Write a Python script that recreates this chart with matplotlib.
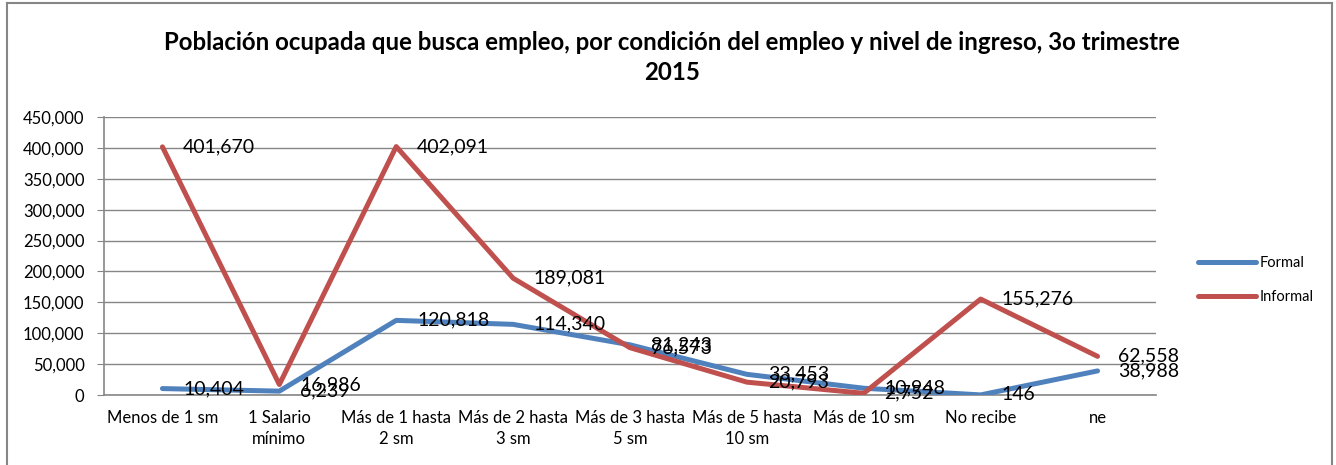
import matplotlib.pyplot as plt
from matplotlib.lines import Line2D
from matplotlib.ticker import FuncFormatter

# categories and series values
categorias = ["Menos de 1 sm", "1 Salario\nmínimo", "Más de 1 hasta\n2 sm", "Más de 2 hasta\n3 sm",
              "Más de 3 hasta\n5 sm", "Más de 5 hasta\n10 sm", "Más de 10 sm", "No recibe", "ne"]
formal = [10404, 6239, 120818, 114340, 81243, 33453, 10948, 146, 38988]
informal = [401670, 16986, 402091, 189081, 76573, 20793, 2752, 155276, 62558]

plt.rcParams['font.family'] = ['Lato', 'DejaVu Sans']

fig = plt.figure(figsize=(13.36, 4.65), dpi=100)
ax = fig.add_axes([104/1336, 1-395/465, 1052/1336, 278/465])

x = list(range(len(categorias)))
azul = "#4F81BD"
rojo = "#C0504D"
ax.plot(x, formal, color=azul, lw=3.6, label="Formal", solid_capstyle="round", zorder=3)
ax.plot(x, informal, color=rojo, lw=3.6, label="Informal", solid_capstyle="round", zorder=3)

# data labels to the right of each point
for xi, v in zip(x, formal):
    ax.annotate(f"{v:,}", (xi, v), xytext=(15, 0), textcoords="offset points",
                ha="left", va="center", fontsize=14, zorder=4, annotation_clip=False)
for xi, v in zip(x, informal):
    ax.annotate(f"{v:,}", (xi, v), xytext=(15, 0), textcoords="offset points",
                ha="left", va="center", fontsize=14, zorder=4, annotation_clip=False)

ax.set_xlim(-0.5, len(categorias) - 0.5)
ax.set_ylim(0, 450000)
ax.set_yticks(range(0, 450001, 50000))
ax.yaxis.set_major_formatter(FuncFormatter(lambda v, p: f"{int(v):,}"))
ax.set_xticks(x)
ax.set_xticklabels(categorias, fontsize=12, linespacing=1.4, va="top")
ax.tick_params(axis="x", length=0, pad=11)
ax.tick_params(axis="y", length=5, color="#868686", labelsize=12, pad=9)
ax.grid(axis="y", color="#868686", lw=1)
ax.set_axisbelow(True)
for s in ["top", "right"]:
    ax.spines[s].set_visible(False)
ax.spines["left"].set_color("#868686")
ax.spines["bottom"].set_color("#868686")
ax.spines["left"].set_linewidth(1.2)
ax.spines["bottom"].set_linewidth(1.2)

fig.text(672/1336, 1-42/465, "Población ocupada que busca empleo, por condición del empleo y nivel de ingreso, 3o trimestre",
         ha="center", va="center", fontsize=17.3, fontweight="bold")
fig.text(672/1336, 1-72/465, "2015", ha="center", va="center", fontsize=17.3, fontweight="bold")

fig.legend(handles=[Line2D([0], [0], color=azul, lw=3.6, solid_capstyle="round"),
                    Line2D([0], [0], color=rojo, lw=3.6, solid_capstyle="round")],
           labels=["Formal", "Informal"], loc="center left", bbox_to_anchor=(1185/1336, 1-280/465),
           frameon=False, fontsize=10.5, handlelength=4, labelspacing=1.4, handletextpad=0.2)

# chart frame
gris = "#868686"
fig.add_artist(Line2D([7/1336, 7/1336], [0, 1-3/465], color=gris, lw=1.5))
fig.add_artist(Line2D([7/1336, 1332/1336], [1-3/465, 1-3/465], color=gris, lw=1.5))
fig.add_artist(Line2D([1332/1336, 1332/1336], [0, 1-3/465], color=gris, lw=1.5))

fig.savefig("out.png", dpi=100)
